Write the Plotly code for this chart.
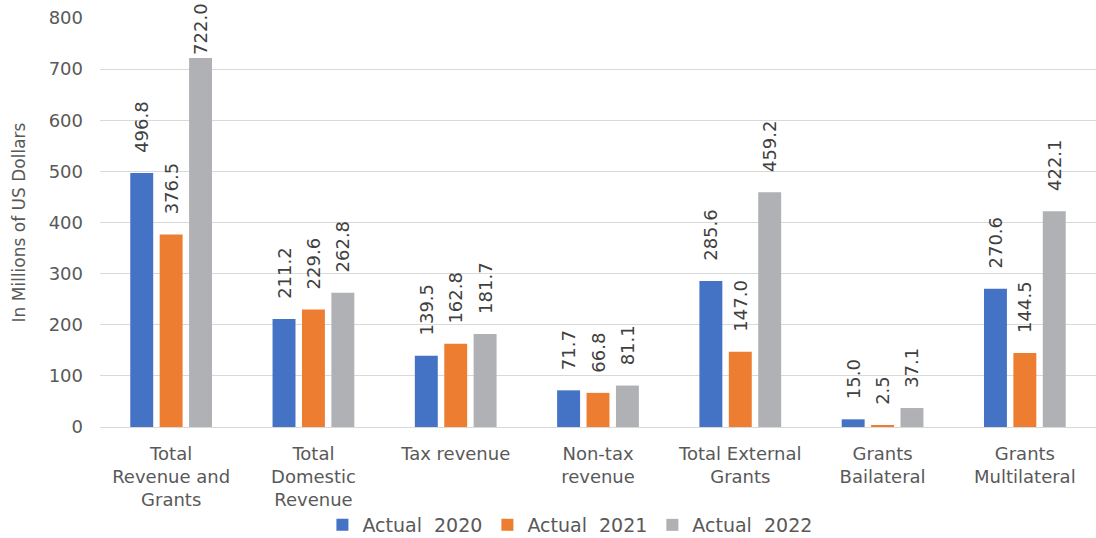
import plotly.graph_objects as go

categories = ["Total<br>Revenue and<br>Grants", "Total<br>Domestic<br>Revenue", "Tax revenue",
              "Non-tax<br>revenue", "Total External<br>Grants", "Grants<br>Bailateral", "Grants<br>Multilateral"]
actual_2020 = [496.8, 211.2, 139.5, 71.7, 285.6, 15.0, 270.6]
actual_2021 = [376.5, 229.6, 162.8, 66.8, 147.0, 2.5, 144.5]
actual_2022 = [722.0, 262.8, 181.7, 81.1, 459.2, 37.1, 422.1]
series_names = ["Actual  2020", "Actual  2021", "Actual  2022"]
colors = ["#4472C4", "#ED7D31", "#B0B1B5"]

font_family = "'DejaVu Sans', sans-serif"
text_color = "#595959"
y_max = 800


def label(v):
    # values near the top of the axis keep their label tight to the bar
    pad = "" if v > 0.85 * y_max else "\u00a0" * 3
    return pad + f"{v:.1f}"


fig = go.Figure()
for name, vals, col in zip(series_names, [actual_2020, actual_2021, actual_2022], colors):
    fig.add_trace(go.Bar(
        x=categories, y=vals, name=name,
        marker=dict(color=col, line=dict(width=0)),
        text=[label(v) for v in vals], textposition="outside", textangle=-90,
        textfont=dict(size=18, color="#404040", family=font_family),
        cliponaxis=False,
    ))

fig.update_layout(
    width=1096, height=538,
    margin=dict(l=100, r=0, t=18, b=111),
    paper_bgcolor="white", plot_bgcolor="white",
    barmode="group", bargap=0.38, bargroupgap=0.22,
    font=dict(family=font_family, color=text_color, size=18),
    legend=dict(orientation="h", x=0.52, xanchor="center", xref="container",
                yref="container", y=13 / 538, yanchor="middle",
                font=dict(size=19, color=text_color), traceorder="normal",
                itemwidth=30, tracegroupgap=0),
    uniformtext=dict(minsize=18, mode="show"),
)
fig.update_yaxes(range=[0, y_max], dtick=100, showgrid=True, gridcolor="#D9D9D9", gridwidth=1,
                 zeroline=True, zerolinecolor="#D9D9D9", zerolinewidth=1, automargin=False,
                 tickfont=dict(size=18, color=text_color), ticks="", ticklen=0, ticklabelstandoff=16,
                 title=dict(text="In Millions of US Dollars", font=dict(size=17, color=text_color), standoff=18))
fig.update_xaxes(showline=True, linecolor="#D9D9D9", automargin=False,
                 tickfont=dict(size=18, color=text_color), ticks="", ticklabelstandoff=10)

fig.write_html("out.html")
